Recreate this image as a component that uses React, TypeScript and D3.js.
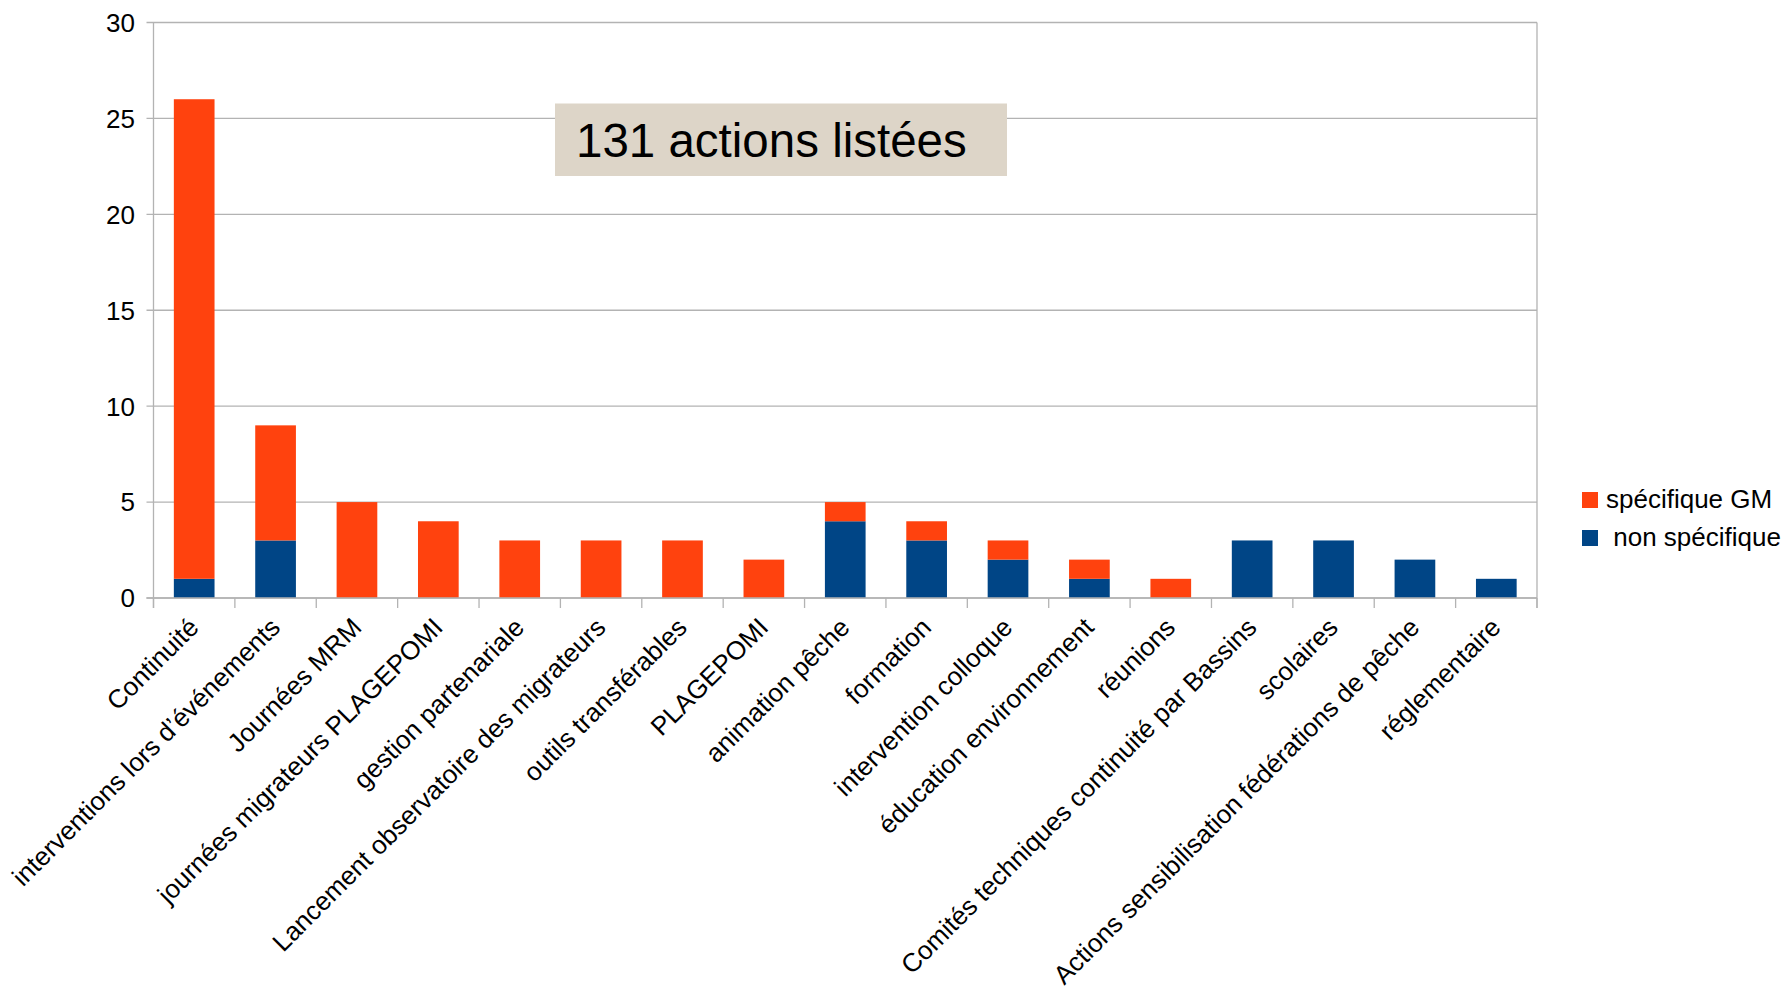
import React from "react";
import * as d3 from "d3";

const categories = [
  "Continuité",
  "interventions lors d’événements",
  "Journées MRM",
  "journées migrateurs PLAGEPOMI",
  "gestion partenariale",
  "Lancement observatoire des migrateurs",
  "outils transférables",
  "PLAGEPOMI",
  "animation pêche",
  "formation",
  "intervention colloque",
  "éducation environnement",
  "réunions",
  "Comités techniques continuité par Bassins",
  "scolaires",
  "Actions sensibilisation fédérations de pêche",
  "réglementaire",
];
const nonSpecifique = [1, 3, 0, 0, 0, 0, 0, 0, 4, 3, 2, 1, 0, 3, 3, 2, 1];
const specifiqueGM = [25, 6, 5, 4, 3, 3, 3, 2, 1, 1, 1, 1, 1, 0, 0, 0, 0];
const yTicks = [0, 5, 10, 15, 20, 25, 30];
const seriesNames = ["non spécifique", "spécifique GM"];
const legendItems = ["spécifique GM", " non spécifique"];
const titleText = "131 actions listées";

const W = 1783;
const H = 998;
const left = 153.5;
const right = 1537;
const top = 22.5;
const bottom = 598;
const FONT = "'Liberation Sans', Arial, sans-serif";
const BLUE = "#004586";
const ORANGE = "#ff420e";
const GRID = "#b3b3b3";

export default function App() {
  const x = d3
    .scaleBand<string>()
    .domain(categories)
    .range([left, right])
    .paddingInner(0.5)
    .paddingOuter(0.25);
  const y = d3.scaleLinear().domain([0, 30]).range([bottom, top]);

  const rows = categories.map((c, i) => ({
    cat: c,
    non: nonSpecifique[i],
    spec: specifiqueGM[i],
  }));
  const stack = d3.stack<any>().keys(["non", "spec"]);
  const series = stack(rows);
  const colors = [BLUE, ORANGE];
  const step = (right - left) / categories.length;
  const boundaries = d3.range(categories.length + 1).map((i) => left + i * step);

  return (
    <svg
      width={W}
      height={H}
      style={{ position: "absolute", left: 0, top: 0, background: "#fff" }}
      fontFamily={FONT}
    >
      <rect x={0} y={0} width={W} height={H} fill="#fff" />
      {/* gridlines */}
      {yTicks.map((t) => (
        <line
          key={"g" + t}
          x1={left - 7}
          x2={right}
          y1={y(t)}
          y2={y(t)}
          stroke={GRID}
          strokeWidth={1.3}
        />
      ))}
      {/* right frame */}
      <line x1={right} x2={right} y1={top} y2={bottom + 10} stroke={GRID} strokeWidth={1.3} />
      {/* y axis */}
      <line x1={left} x2={left} y1={top} y2={bottom + 10} stroke={GRID} strokeWidth={1.3} />
      {/* x ticks */}
      {boundaries.map((b, i) => (
        <line key={"t" + i} x1={b} x2={b} y1={bottom} y2={bottom + 10} stroke={GRID} strokeWidth={1.3} />
      ))}
      {/* bars */}
      {series.map((s, si) =>
        s.map((d, i) =>
          d[1] - d[0] > 0 ? (
            <rect
              key={seriesNames[si] + i}
              x={x(categories[i])}
              width={x.bandwidth()}
              y={y(d[1])}
              height={y(d[0]) - y(d[1])}
              fill={colors[si]}
            />
          ) : null
        )
      )}
      {/* x axis line */}
      <line x1={left - 7} x2={right} y1={bottom} y2={bottom} stroke={GRID} strokeWidth={1.5} />
      {/* y tick labels */}
      {yTicks.map((t) => (
        <text
          key={"yl" + t}
          x={135}
          y={y(t)}
          dy="0.36em"
          textAnchor="end"
          fontSize={26}
          fill="#000"
        >
          {t}
        </text>
      ))}
      {/* category labels */}
      {categories.map((c) => {
        const cx = (x(c) as number) + x.bandwidth() / 2;
        return (
          <text
            key={"xl" + c}
            transform={`translate(${cx + 6},${bottom + 31}) rotate(-45)`}
            textAnchor="end"
            fontSize={26}
            fill="#000"
          >
            {c}
          </text>
        );
      })}
      {/* title box */}
      <rect x={555} y={103.5} width={452} height={72.5} fill="#ddd5c8" />
      <text x={576} y={157} fontSize={47.5} fill="#000">
        {titleText}
      </text>
      {/* legend */}
      {legendItems.map((l, i) => (
        <g key={"lg" + i}>
          <rect x={1582} y={492 + i * 38} width={16} height={16} fill={i === 0 ? ORANGE : BLUE} />
          <text x={1606} y={508 + i * 38} fontSize={26} fill="#000" style={{ whiteSpace: "pre" }}>
            {l}
          </text>
        </g>
      ))}
    </svg>
  );
}
